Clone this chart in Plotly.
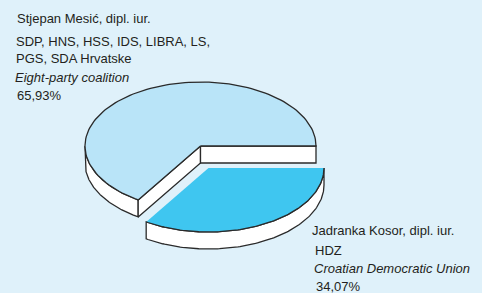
import numpy as np
import plotly.graph_objects as go

# ---------------- data ----------------
candidates = ["Jadranka Kosor, dipl. iur.", "Stjepan Mesić, dipl. iur."]
party_lines = [["HDZ"], ["SDP, HNS, HSS, IDS, LIBRA, LS,", "PGS, SDA Hrvatske"]]
descriptions = ["Croatian Democratic Union", "Eight-party coalition"]
shares = [34.07, 65.93]

# ---------------- style ----------------
W, H = 482, 293
BG = "#dff1fa"
TOP_COLORS = ["#3fc6f0", "#b9e4f8"]
SIDE = "#ffffff"
EDGE = "#2a2a2a"
LW = 1.3
RX, RY, DEPTH = 115.5, 64.0, 17.0
CENTERS = [(208.5, 168.0), (200.5, 146.0)]   # exploded slice centres (pixels)
FONT = "Liberation Sans, Arial, sans-serif"
TXT = "#231f20"

fig = go.Figure()


def arc(c, t0, t1, dy=0.0, n=120):
    t = np.linspace(t0, t1, n)
    return c[0] + RX * np.cos(t), c[1] + RY * np.sin(t) + dy


def poly(xs, ys, fill, line_w=LW):
    fig.add_trace(go.Scatter(
        x=list(xs), y=list(ys), mode="lines", fill="toself", fillcolor=fill,
        line=dict(color=EDGE if line_w > 0 else fill, width=max(line_w, 0.01)),
        hoverinfo="skip", showlegend=False))


total = sum(shares)
angles = np.cumsum([0] + [360.0 * s / total for s in shares])
spans = [(np.radians(angles[i]), np.radians(angles[i + 1])) for i in range(len(shares))]

# draw back slice (index 1) first, then front slice (index 0)
for i in [1, 0]:
    a0, a1 = spans[i]
    c = CENTERS[i]
    # outer wall (front half only)
    w0, w1 = max(a0, 0.0), min(a1, np.pi)
    if w1 > w0:
        xt, yt = arc(c, w0, w1)
        xb, yb = arc(c, w1, w0, DEPTH)
        poly(np.r_[xt, xb, xt[:1]], np.r_[yt, yb, yt[:1]], SIDE)
    # radial faces
    for a, vis in [(a0, np.cos(a0) < 0), (a1, np.cos(a1) > 0)]:
        if vis:
            px, py = c[0] + RX * np.cos(a), c[1] + RY * np.sin(a)
            poly([c[0], px, px, c[0], c[0]],
                 [c[1], py, py + DEPTH, c[1] + DEPTH, c[1]], SIDE)
    # top face
    xt, yt = arc(c, a0, a1)
    if i == 1:
        poly(np.r_[c[0], xt, c[0]], np.r_[c[1], yt, c[1]], TOP_COLORS[i])
    else:
        poly(np.r_[c[0], xt, c[0]], np.r_[c[1], yt, c[1]], TOP_COLORS[i], 0)
        fig.add_trace(go.Scatter(x=xt, y=yt, mode="lines",
                                 line=dict(color=EDGE, width=LW),
                                 hoverinfo="skip", showlegend=False))

# ---------------- labels ----------------
def pct(v):
    return f"{v:.2f}".replace(".", ",") + "%"

label_blocks = []
for i in range(len(shares)):
    lines = [candidates[i]] + party_lines[i] + [f"<i>{descriptions[i]}</i>", pct(shares[i])]
    label_blocks.append(lines)

# line positions: (x, baseline y)
POS = {
    1: [(16.7, 23.0), (16.0, 45.7), (16.0, 63.3), (15.3, 81.7), (16.7, 100.0)],
    0: [(311.7, 235.0), (315.0, 255.0), (314.3, 273.3), (315.7, 291.0)],
}
for i, lines in enumerate(label_blocks):
    for txt, (x, yb) in zip(lines, POS[i]):
        fig.add_annotation(x=x - 2, y=yb - 4.5, xref="x", yref="y", text=txt,
                           showarrow=False, xanchor="left", yanchor="middle",
                           font=dict(family=FONT, size=13, color=TXT))

fig.update_layout(
    width=W, height=H, margin=dict(l=0, r=0, t=0, b=0),
    paper_bgcolor=BG, plot_bgcolor=BG, showlegend=False, hovermode=False,
    xaxis=dict(range=[0, W], visible=False, fixedrange=True),
    yaxis=dict(range=[H, 0], visible=False, fixedrange=True),
)
fig.write_html(
    "out.html",
    config={"displayModeBar": False},
    post_script=("document.body.style.margin='0';"
                 "document.body.style.overflow='hidden';"
                 "document.body.style.background='" + BG + "';"),
)
